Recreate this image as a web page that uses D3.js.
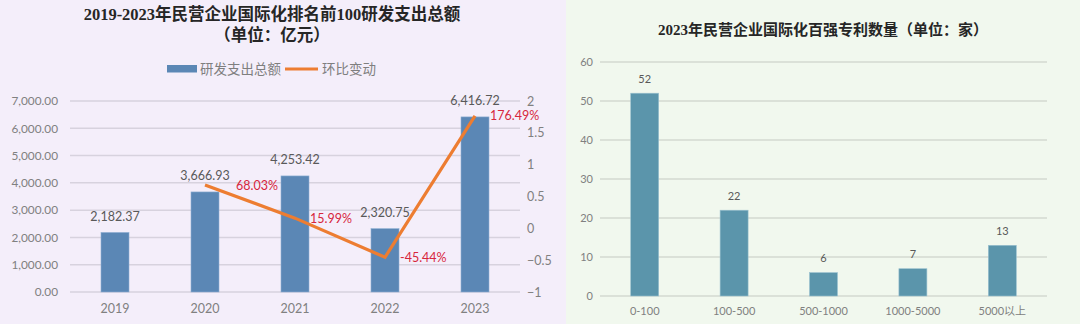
<!DOCTYPE html>
<html>
<head>
<meta charset="utf-8">
<script src="https://cdn.jsdelivr.net/npm/d3@7"></script>
<style>
  html, body { margin: 0; padding: 0; background: #ffffff; }
  svg { display: block; }
</style>
</head>
<body>
<svg id="chart" width="1080" height="324"></svg>
<script>
// R&D spending of the top 100 internationalised private enterprises, 2019-2023
const years = ["2019", "2020", "2021", "2022", "2023"];
const rdSpend = [2182.37, 3666.93, 4253.42, 2320.75, 6416.72];
const rdChange = [null, 0.6803, 0.1599, -0.4544, 1.7649];
const rdChangeLabels = [null, "68.03%", "15.99%", "-45.44%", "176.49%"];
const spendTicks = [0, 1000, 2000, 3000, 4000, 5000, 6000, 7000];
const changeTicks = [-1, -0.5, 0, 0.5, 1, 1.5, 2];

// Patent counts of the top 100, 2023, by bracket
const patentBrackets = ["0-100", "100-500", "500-1000", "1000-5000", "5000以上"];
const patentCompanies = [52, 22, 6, 7, 13];
const patentTicks = [0, 10, 20, 30, 40, 50, 60];

const svg = d3.select("#chart");
const sans = "Lato, 'Noto Sans CJK SC', sans-serif";
const serif = "'Liberation Serif', 'Noto Sans CJK SC', serif";

// ---------- left panel ----------
const left = svg.append("g");
left.append("rect").attr("x", 0).attr("y", 0).attr("width", 566).attr("height", 324).attr("fill", "#F4EEFA");

left.append("text").attr("x", 272).attr("y", 14).attr("text-anchor", "middle").attr("dominant-baseline", "central")
  .attr("font-family", serif).attr("font-weight", 700).attr("font-size", 16.5).attr("fill", "#262626")
  .text("2019-2023年民营企业国际化排名前100研发支出总额");
left.append("text").attr("x", 272).attr("y", 35).attr("text-anchor", "middle").attr("dominant-baseline", "central")
  .attr("font-family", serif).attr("font-weight", 700).attr("font-size", 16.5).attr("fill", "#262626")
  .text("（单位：亿元）");

// legend
const lg = left.append("g").attr("font-family", sans).attr("font-size", 13.5).attr("fill", "#7f7f7f");
lg.append("rect").attr("x", 167).attr("y", 65).attr("width", 30).attr("height", 7.5).attr("fill", "#5B87B5");
lg.append("text").attr("x", 200).attr("y", 69).attr("dominant-baseline", "central").text("研发支出总额");
lg.append("line").attr("x1", 285).attr("x2", 318).attr("y1", 69).attr("y2", 69).attr("stroke", "#ED7D31").attr("stroke-width", 3);
lg.append("text").attr("x", 322).attr("y", 69).attr("dominant-baseline", "central").text("环比变动");

const xL = d3.scaleBand().domain(years).range([70, 520]);
const yL = d3.scaleLinear().domain([0, 7000]).range([292, 101]);
const yR = d3.scaleLinear().domain([-1, 2]).range([292, 101]);
const barWL = 28;

// gridlines
left.append("g").selectAll("line").data(spendTicks).join("line")
  .attr("x1", 70).attr("x2", 520).attr("y1", d => yL(d)).attr("y2", d => yL(d))
  .attr("stroke", "#D7D2DE").attr("stroke-width", 1.5);

// left axis
const axL = left.append("g").attr("transform", "translate(70,0)")
  .call(d3.axisLeft(yL).tickValues(spendTicks).tickFormat(d3.format(",.2f")).tickSize(0).tickPadding(12));
axL.select(".domain").remove();
axL.selectAll("text").attr("font-family", sans).attr("font-size", 11.8).attr("fill", "#808080");

// right axis
const axR = left.append("g").attr("transform", "translate(520,0)")
  .call(d3.axisRight(yR).tickValues(changeTicks).tickFormat(d => d3.format("")(d)).tickSize(0).tickPadding(7));
axR.select(".domain").remove();
axR.selectAll("text").attr("font-family", sans).attr("font-size", 12.5).attr("fill", "#808080");

// bottom axis
const axB = left.append("g").attr("transform", "translate(0,292)")
  .call(d3.axisBottom(xL).tickSize(0).tickPadding(12));
axB.select(".domain").remove();
axB.selectAll("text").attr("font-family", sans).attr("font-size", 12.5).attr("fill", "#808080");

// bars
left.append("g").selectAll("rect").data(years).join("rect")
  .attr("x", d => xL(d) + xL.bandwidth() / 2 - barWL / 2)
  .attr("y", (d, i) => yL(rdSpend[i]))
  .attr("width", barWL)
  .attr("height", (d, i) => yL(0) - yL(rdSpend[i]))
  .attr("fill", "#5B87B5").attr("stroke", "#8FB0D2").attr("stroke-width", 0.6);

// bar value labels
left.append("g").selectAll("text").data(years).join("text")
  .attr("x", d => xL(d) + xL.bandwidth() / 2)
  .attr("y", (d, i) => yL(rdSpend[i]) - 16)
  .attr("text-anchor", "middle").attr("dominant-baseline", "central")
  .attr("font-family", sans).attr("font-size", 12.5).attr("fill", "#595959")
  .text((d, i) => d3.format(",.2f")(rdSpend[i]));

// change line
const pts = years.map((d, i) => ({ year: d, v: rdChange[i], label: rdChangeLabels[i] })).filter(p => p.v !== null);
const line = d3.line().x(p => xL(p.year) + xL.bandwidth() / 2).y(p => yR(p.v));
left.append("path").datum(pts).attr("d", line)
  .attr("fill", "none").attr("stroke", "#ED7D31").attr("stroke-width", 3.2)
  .attr("stroke-linejoin", "miter").attr("stroke-linecap", "butt");

// change labels (the first one is pushed clear of the bar label)
left.append("g").selectAll("text").data(pts).join("text")
  .attr("x", (p, i) => xL(p.year) + xL.bandwidth() / 2 + (i === 0 ? 31 : 15))
  .attr("y", p => yR(p.v))
  .attr("dominant-baseline", "central")
  .attr("font-family", sans).attr("font-size", 12.5).attr("fill", "#D7263D")
  .text(p => p.label);

// ---------- right panel ----------
const right = svg.append("g");
right.append("rect").attr("x", 566).attr("y", 0).attr("width", 514).attr("height", 324).attr("fill", "#F1F8EE");

right.append("text").attr("x", 823).attr("y", 30).attr("text-anchor", "middle").attr("dominant-baseline", "central")
  .attr("font-family", serif).attr("font-weight", 700).attr("font-size", 15).attr("fill", "#262626")
  .text("2023年民营企业国际化百强专利数量（单位：家）");

const xP = d3.scaleBand().domain(patentBrackets).range([600, 1047]);
const yP = d3.scaleLinear().domain([0, 60]).range([296, 62]);
const barWR = 28;

right.append("g").selectAll("line").data(patentTicks).join("line")
  .attr("x1", 600).attr("x2", 1047).attr("y1", d => yP(d)).attr("y2", d => yP(d))
  .attr("stroke", "#D3DAD0").attr("stroke-width", 1.5);

const axP = right.append("g").attr("transform", "translate(600,0)")
  .call(d3.axisLeft(yP).tickValues(patentTicks).tickSize(0).tickPadding(7));
axP.select(".domain").remove();
axP.selectAll("text").attr("font-family", sans).attr("font-size", 11).attr("fill", "#808080");

const axPB = right.append("g").attr("transform", "translate(0,296)")
  .call(d3.axisBottom(xP).tickSize(0).tickPadding(11));
axPB.select(".domain").remove();
axPB.selectAll("text").attr("font-family", sans).attr("font-size", 11).attr("fill", "#808080");

right.append("g").selectAll("rect").data(patentBrackets).join("rect")
  .attr("x", d => xP(d) + xP.bandwidth() / 2 - barWR / 2)
  .attr("y", (d, i) => yP(patentCompanies[i]))
  .attr("width", barWR)
  .attr("height", (d, i) => yP(0) - yP(patentCompanies[i]))
  .attr("fill", "#5B95AB").attr("stroke", "#9CC2D0").attr("stroke-width", 0.6);

right.append("g").selectAll("text").data(patentBrackets).join("text")
  .attr("x", d => xP(d) + xP.bandwidth() / 2)
  .attr("y", (d, i) => yP(patentCompanies[i]) - 15)
  .attr("text-anchor", "middle").attr("dominant-baseline", "central")
  .attr("font-family", sans).attr("font-size", 11).attr("fill", "#595959")
  .text((d, i) => patentCompanies[i]);
</script>
</body>
</html>
